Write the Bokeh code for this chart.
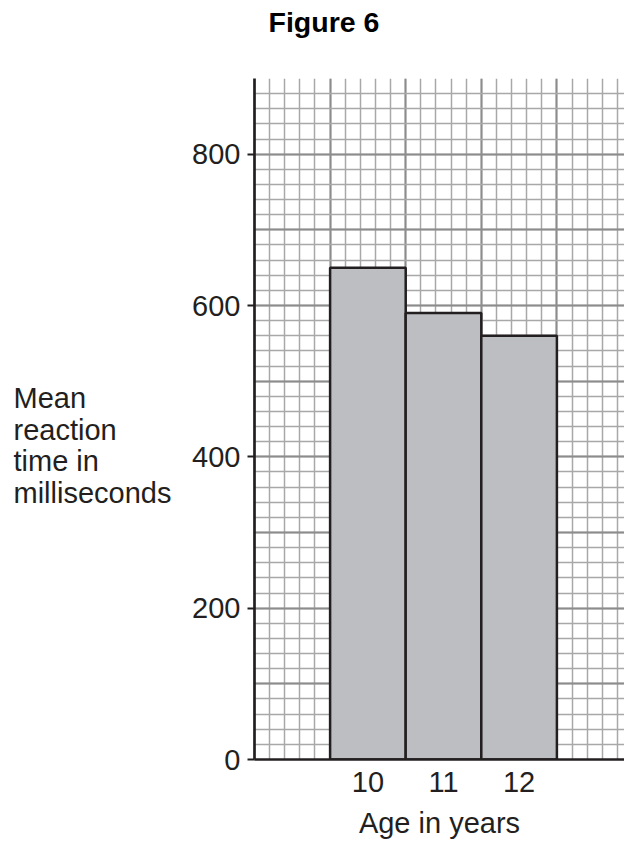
from bokeh.plotting import figure
from bokeh.models import Range1d, FixedTicker, Title
from bokeh.layouts import row
from bokeh.core.properties import value
from bokeh.embed import file_html
from bokeh.resources import INLINE
import numpy as np

# Data
ages = [10, 11, 12]
age_labels = ["10", "11", "12"]
reaction_ms = [650, 590, 560]
y_ticks = [0, 200, 400, 600, 800]

title_text = "Figure 6"
x_title = "Age in years"
y_title_lines = ["Mean", "reaction", "time in", "milliseconds"]

FONT = "Liberation Sans"
INK = "#231f20"

W, H = 624, 843
LW = 180                       # width of the side panel holding the y title
MW = W - LW                    # main figure width
FT, FB = 78, 759               # frame top / bottom in page pixels
left, top, bottom = 254 - LW, FT, H - FB
frame_w = MW - left
px_per_x = 75.6
x0 = 8.5
x1 = x0 + frame_w / px_per_x

# ---- y-title side panel (page pixel coordinates, y downward)
q = figure(width=LW, height=H, output_backend="svg", toolbar_location=None,
           x_range=Range1d(0, LW), y_range=Range1d(FB, FT),
           x_axis_type=None, y_axis_type=None, title=None,
           min_border_left=0, min_border_right=0,
           min_border_top=top, min_border_bottom=bottom)
q.outline_line_color = None
q.xgrid.visible = False
q.ygrid.visible = False
q.text(x=[13] * len(y_title_lines), y=[397.3, 429.0, 460.7, 492.4], text=y_title_lines,
       text_font=value(FONT), text_font_size="29px", text_color=INK,
       text_align="left", text_baseline="alphabetic")

# ---- main chart
p = figure(width=MW, height=H, output_backend="svg", toolbar_location=None,
           x_range=Range1d(x0, x1), y_range=Range1d(0, 900), title=None,
           min_border_left=left, min_border_right=0,
           min_border_top=top, min_border_bottom=bottom)
p.outline_line_color = None
p.background_fill_color = "white"
p.border_fill_color = "white"

# spacer next to the frame, then the title above it
p.add_layout(Title(text=" ", text_font=FONT, text_font_size="28.5px",
                   text_font_style="bold", standoff=6.5), "above")
p.add_layout(Title(text=title_text, text_font=FONT, text_font_size="28.5px",
                   text_font_style="bold", text_color="black", align="left",
                   offset=14, standoff=0), "above")

# grid paper
xmaj = list(np.arange(8.5, 14.0, 1.0))
xmin = [round(v, 2) for v in np.arange(8.5, 14.0, 0.2)]
ymaj = list(range(0, 1000, 100))
ymin = list(range(0, 920, 20))
p.xgrid.ticker = FixedTicker(ticks=xmaj, minor_ticks=xmin)
p.ygrid.ticker = FixedTicker(ticks=ymaj, minor_ticks=ymin)
for g in (p.xgrid, p.ygrid):
    g.grid_line_color = "#8c8c8c"
    g.grid_line_width = 2
    g.minor_grid_line_color = "#a8a8a8"
    g.minor_grid_line_width = 1.5

# bars
p.vbar(x=ages, top=reaction_ms, bottom=0, width=1.0,
       fill_color="#bcbec1", line_color=INK, line_width=2.5)

# axes
p.yaxis.ticker = FixedTicker(ticks=y_ticks, minor_ticks=[])
p.xaxis.ticker = FixedTicker(ticks=ages, minor_ticks=[])
p.xaxis.major_label_overrides = {a: s for a, s in zip(ages, age_labels)}
for ax in (p.xaxis, p.yaxis):
    ax.axis_line_color = INK
    ax.axis_line_width = 2.7
    ax.major_label_text_font = FONT
    ax.major_label_text_font_size = "29px"
    ax.major_label_text_color = INK
    ax.minor_tick_line_color = None
    ax.major_tick_line_color = INK
    ax.major_tick_line_width = 2
p.yaxis.major_tick_out = 7
p.yaxis.major_tick_in = 0
p.yaxis.major_label_standoff = 7
p.xaxis.major_tick_out = 0
p.xaxis.major_tick_in = 0
p.xaxis.major_label_standoff = 12
p.xaxis.axis_label = x_title
p.xaxis.axis_label_text_font = FONT
p.xaxis.axis_label_text_font_size = "29px"
p.xaxis.axis_label_text_font_style = "normal"
p.xaxis.axis_label_text_color = INK
p.xaxis.axis_label_standoff = 12

layout = row(q, p)
open("out.html", "w").write(file_html(layout, INLINE))
